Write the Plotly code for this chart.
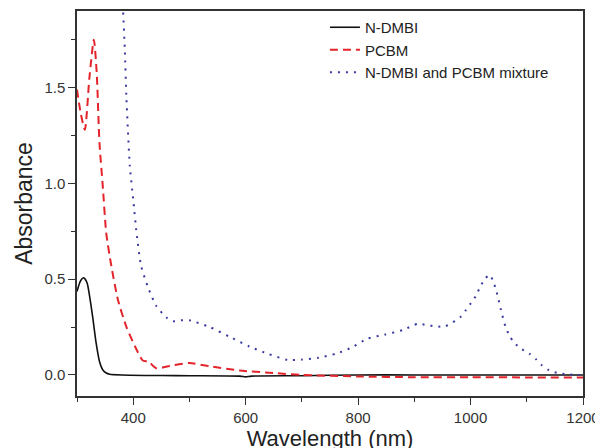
import plotly.graph_objects as go

# Data
wl_ndmbi = [300, 306, 312, 318, 323, 328, 334, 340, 346, 352, 358, 380, 450, 500, 590, 600, 610, 700, 800, 900, 1000, 1100, 1200]
abs_ndmbi = [0.435, 0.49, 0.507, 0.48, 0.40, 0.30, 0.167, 0.07, 0.026, 0.01, 0.004, 0.0, -0.003, -0.004, -0.006, -0.01, -0.006, -0.004, 0.0, 0.0, 0.0, 0.0, 0.0]

wl_pcbm = [300, 307, 314, 322, 330, 335, 340, 346, 352, 361, 373, 388, 403, 417, 427, 441, 465, 500, 536, 589, 650, 700, 800, 900, 1000, 1100, 1200]
abs_pcbm = [1.49, 1.36, 1.28, 1.55, 1.75, 1.58, 1.21, 0.98, 0.74, 0.57, 0.39, 0.25, 0.15, 0.075, 0.07, 0.035, 0.047, 0.062, 0.045, 0.023, 0.01, 0.0, -0.008, -0.012, -0.012, -0.013, -0.013]

wl_mix = [378, 382, 385, 388, 394, 400, 406, 414, 426, 441, 459, 471, 485, 500, 536, 571, 607, 640, 675, 700, 730, 762, 790, 817, 847, 880, 906, 922, 939, 954, 968, 983, 992, 1001, 1009, 1016, 1025, 1034, 1041, 1046, 1050, 1054, 1062, 1069, 1078, 1090, 1105, 1117, 1127, 1140, 1155, 1170, 1185, 1200]
abs_mix = [2.1, 1.9, 1.70, 1.44, 1.09, 0.915, 0.74, 0.57, 0.46, 0.36, 0.30, 0.28, 0.285, 0.285, 0.25, 0.20, 0.148, 0.11, 0.078, 0.08, 0.09, 0.112, 0.145, 0.19, 0.21, 0.235, 0.267, 0.26, 0.253, 0.253, 0.274, 0.305, 0.34, 0.376, 0.41, 0.453, 0.5, 0.523, 0.483, 0.436, 0.39, 0.34, 0.253, 0.206, 0.166, 0.137, 0.11, 0.08, 0.05, 0.024, 0.01, 0.004, 0.0, 0.0]

x_ticks = [400, 600, 800, 1000, 1200]
y_ticks = [0.0, 0.5, 1.0, 1.5]
y_ticklabels = ["0.0", "0.5", "1.0", "1.5"]

FONT = "Liberation Sans, Arial, sans-serif"

fig = go.Figure()
fig.add_trace(go.Scatter(x=wl_ndmbi, y=abs_ndmbi, mode="lines", name="N-DMBI",
                         line=dict(color="#111111", width=1.6, shape="spline", smoothing=0.6)))
fig.add_trace(go.Scatter(x=wl_pcbm, y=abs_pcbm, mode="lines", name="PCBM",
                         line=dict(color="#e3242b", width=2, dash="8px,5px", shape="spline", smoothing=0.6)))
fig.add_trace(go.Scatter(x=wl_mix, y=abs_mix, mode="lines", name="N-DMBI and PCBM mixture",
                         line=dict(color="#3a3aa0", width=2, dash="2px,6px", shape="spline", smoothing=0.6)))

axis_common = dict(showline=True, linecolor="#333333", linewidth=1.5, mirror=True,
                   ticks="outside", ticklen=7, tickwidth=1.2, tickcolor="#333333",
                   showgrid=False, zeroline=False, automargin=False,
                   tickfont=dict(family=FONT, size=15, color="#333333"))

fig.update_xaxes(range=[300, 1200], tickvals=x_ticks,
                 minor=dict(ticks="outside", ticklen=4, tickwidth=1.2, tickcolor="#333333", dtick=100, tick0=0),
                 title=dict(text="Wavelength (nm)", font=dict(family=FONT, size=22, color="#222222"), standoff=4),
                 **axis_common)
fig.update_yaxes(range=[-0.11, 1.9], tickvals=y_ticks, ticktext=y_ticklabels,
                 minor=dict(ticks="outside", ticklen=4, tickwidth=1.2, tickcolor="#333333", dtick=0.25, tick0=0),
                 title=dict(text="Absorbance", font=dict(family=FONT, size=23, color="#222222"), standoff=5),
                 **axis_common)

# the page adds an 8 px body margin, so the figure is sized/placed to compensate
fig.update_layout(
    width=595, height=448,
    margin=dict(l=69, r=20, t=3, b=60),
    paper_bgcolor="white", plot_bgcolor="white",
    showlegend=True,
    legend=dict(x=0.49, y=1.0, xanchor="left", yanchor="top",
                bgcolor="rgba(0,0,0,0)", borderwidth=0,
                font=dict(family=FONT, size=15, color="#222222"),
                tracegroupgap=0),
)

fig.write_html("out.html")
